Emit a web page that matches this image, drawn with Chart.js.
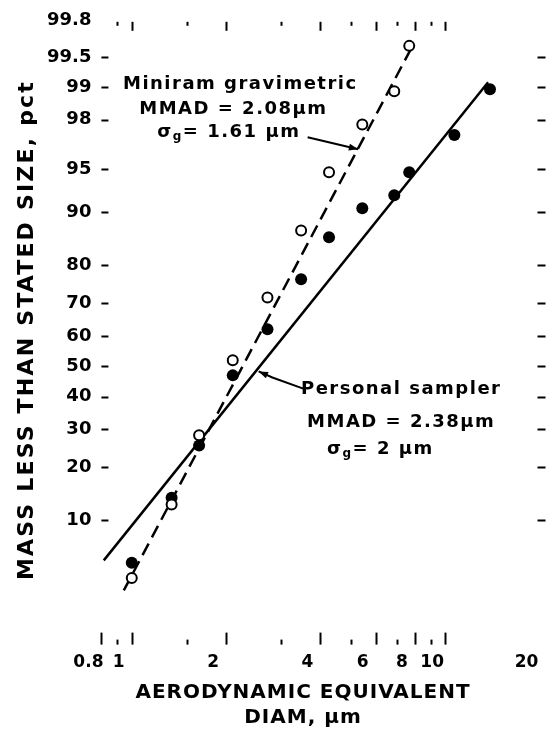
<!DOCTYPE html>
<html>
<head>
<meta charset="utf-8">
<script src="https://cdn.jsdelivr.net/npm/chart.js@4"></script>
<style>
html, body { margin: 0; padding: 0; background: #fff; }
</style>
</head>
<body>
<canvas id="sizeChart" width="560" height="739"></canvas>
<script>
// impactor stage diameters, um
const stageDiam = [1.00, 1.34, 1.64, 2.10, 2.71, 3.47, 4.26, 5.44, 6.88, 7.68, 10.7, 13.9];
// cumulative mass less than stated size, pct
const miniramPct = [3.9, 12.5, 28.3, 52.0, 71.7, 87.1, 94.7, 97.8, 98.9, 99.62];
const samplerPct = [5.1, 13.7, 25.5, 47.0, 62.1, 76.6, 85.9, 90.6, 92.3, 94.7, 97.3, 98.95];
// fitted lines, end points
const miniramFitDiam = [0.943, 7.97];
const miniramFitPct = [3.1, 99.65];
const samplerFitDiam = [0.814, 13.71];
const samplerFitPct = [5.3, 99.1];

const yTickPct = [10, 20, 30, 40, 50, 60, 70, 80, 90, 95, 98, 99, 99.5, 99.8];
const xTickDiam = [0.8, 0.9, 1, 1.5, 2, 3, 4, 5, 6, 7, 8, 9, 10, 20];
const xTickLabels = ['0.8', '', '1', '', '2', '', '4', '', '6', '', '8', '', '10', '20'];

// inverse normal cdf (Acklam), pct -> z, for the probability axis
function probit(pct) {
    const p = pct / 100;
    const a = [-39.69683028665376, 220.9460984245205, -275.9285104469687, 138.3577518672690, -30.66479806614716, 2.506628277459239];
    const b = [-54.47609879822406, 161.5858368580409, -155.6989798598866, 66.80131188771972, -13.28068155288572];
    const c = [-0.007784894002430293, -0.3223964580411365, -2.400758277161838, -2.549732539343734, 4.374664141464968, 2.938163982698783];
    const d = [0.007784695709041462, 0.3224671290700398, 2.445134137142996, 3.754408661907416];
    let q, r;
    if (p < 0.02425) {
        q = Math.sqrt(-2 * Math.log(p));
        return (((((c[0]*q+c[1])*q+c[2])*q+c[3])*q+c[4])*q+c[5]) / ((((d[0]*q+d[1])*q+d[2])*q+d[3])*q+1);
    }
    if (p <= 1 - 0.02425) {
        q = p - 0.5; r = q * q;
        return (((((a[0]*r+a[1])*r+a[2])*r+a[3])*r+a[4])*r+a[5])*q / (((((b[0]*r+b[1])*r+b[2])*r+b[3])*r+b[4])*r+1);
    }
    q = Math.sqrt(-2 * Math.log(1 - p));
    return -(((((c[0]*q+c[1])*q+c[2])*q+c[3])*q+c[4])*q+c[5]) / ((((d[0]*q+d[1])*q+d[2])*q+d[3])*q+1);
}

function toPoints(xs, pcts) {
    return pcts.map((p, i) => ({ x: xs[i], y: probit(p) }));
}

const FONT = '"DejaVu Sans", sans-serif';

// labels and leader lines, placed in data units (diam, pct)
const notes = [
    { text: [['Miniram gravimetric'], ['MMAD = 2.08µm'], ['σ', 'g', '= 1.61 µm']], at: [[2.22, 99.06], [2.11, 98.39], [2.04, 97.44]] },
    { text: [['Personal sampler'], ['MMAD = 2.38µm'], ['σ', 'g', '= 2 µm']], at: [[7.24, 42.4], [7.24, 32.0], [6.21, 24.5]] }
];
const leaders = [
    { pts: [[3.64, 97.18], [5.28, 96.47]] },
    { pts: [[3.58, 42.4], [2.81, 46.3], [2.54, 48.3]] }
];

function spacing(ctx, px) {
    if ('letterSpacing' in ctx) ctx.letterSpacing = px + 'px';
}

const figureMarks = {
    id: 'figureMarks',
    afterDraw(chart) {
        const ctx = chart.ctx;
        const xs = chart.scales.x, ys = chart.scales.y;
        const area = chart.chartArea;
        ctx.save();
        ctx.strokeStyle = '#000';
        ctx.fillStyle = '#000';
        ctx.lineWidth = 2;
        ctx.lineCap = 'butt';

        // x tick marks, bottom and top
        xTickDiam.forEach((v, i) => {
            if (v === 20) return;
            const px = Math.round(xs.getPixelForValue(v)) + 0.5;
            const major = xTickLabels[i] !== '';
            const base = area.bottom + 11;
            ctx.beginPath();
            ctx.moveTo(px, base);
            ctx.lineTo(px, base - (major ? 12 : 5));
            ctx.stroke();
            if (v !== 0.8) {
                ctx.beginPath();
                ctx.moveTo(px, area.top + 1);
                ctx.lineTo(px, area.top + 1 + (major ? 9 : 4));
                ctx.stroke();
            }
        });

        // y tick dashes, left and right
        yTickPct.forEach(p => {
            if (p === 99.8) return;
            const py = Math.round(ys.getPixelForValue(probit(p))) + 0.5;
            ctx.beginPath();
            ctx.moveTo(area.left, py);
            ctx.lineTo(area.left + 7, py);
            ctx.moveTo(area.right - 2, py);
            ctx.lineTo(area.right + 6, py);
            ctx.stroke();
        });

        // leader lines, arrow at the fitted line
        leaders.forEach(l => {
            const pts = l.pts.map(pt => [xs.getPixelForValue(pt[0]), ys.getPixelForValue(probit(pt[1]))]);
            ctx.lineWidth = 2;
            ctx.beginPath();
            ctx.moveTo(pts[0][0], pts[0][1]);
            for (let i = 1; i < pts.length; i++) ctx.lineTo(pts[i][0], pts[i][1]);
            ctx.stroke();
            const e = pts[pts.length - 1], s = pts[pts.length - 2];
            const ang = Math.atan2(e[1] - s[1], e[0] - s[0]);
            ctx.beginPath();
            ctx.moveTo(e[0], e[1]);
            ctx.lineTo(e[0] - 10 * Math.cos(ang - 0.35), e[1] - 10 * Math.sin(ang - 0.35));
            ctx.lineTo(e[0] - 10 * Math.cos(ang + 0.35), e[1] - 10 * Math.sin(ang + 0.35));
            ctx.closePath();
            ctx.fill();
        });

        // annotation text
        ctx.textBaseline = 'middle';
        ctx.textAlign = 'left';
        spacing(ctx, 1.5);
        notes.forEach(n => {
            n.text.forEach((parts, i) => {
                const cx = xs.getPixelForValue(n.at[i][0]);
                const cy = ys.getPixelForValue(probit(n.at[i][1]));
                const main = 'bold 18px ' + FONT, sub = 'bold 12px ' + FONT;
                let w = 0;
                parts.forEach((t, k) => {
                    ctx.font = (parts.length > 1 && k === 1) ? sub : main;
                    w += ctx.measureText(t).width;
                });
                let x = cx - w / 2;
                parts.forEach((t, k) => {
                    const isSub = parts.length > 1 && k === 1;
                    ctx.font = isSub ? sub : main;
                    ctx.fillText(t, x, cy + (isSub ? 5 : 0));
                    x += ctx.measureText(t).width;
                });
            });
        });

        // axis titles
        ctx.textAlign = 'center';
        ctx.font = 'bold 20px ' + FONT;
        spacing(ctx, 1);
        ctx.fillText('AERODYNAMIC EQUIVALENT', 303, 693);
        ctx.fillText('DIAM, µm', 303, 718);
        ctx.translate(27, 330);
        ctx.rotate(-Math.PI / 2);
        ctx.font = 'bold 22px ' + FONT;
        spacing(ctx, 2.2);
        ctx.fillText('MASS LESS THAN STATED SIZE, pct', 0, 0);
        ctx.restore();
    }
};

const chart = new Chart(document.getElementById('sizeChart').getContext('2d'), {
    type: 'scatter',
    data: {
        datasets: [{
            label: 'Miniram gravimetric',
            data: toPoints(stageDiam, miniramPct),
            pointRadius: 5,
            pointBorderWidth: 2,
            borderColor: '#000',
            backgroundColor: '#fff',
            order: 1
        }, {
            label: 'Personal sampler',
            data: toPoints(stageDiam, samplerPct),
            pointRadius: 6,
            pointBorderWidth: 0,
            borderColor: '#000',
            backgroundColor: '#000',
            order: 2
        }, {
            label: 'Miniram fit',
            data: toPoints(miniramFitDiam, miniramFitPct),
            showLine: true,
            pointRadius: 0,
            borderColor: '#000',
            borderWidth: 2.5,
            borderDash: [13, 7],
            order: 3
        }, {
            label: 'Personal sampler fit',
            data: toPoints(samplerFitDiam, samplerFitPct),
            showLine: true,
            pointRadius: 0,
            borderColor: '#000',
            borderWidth: 2.5,
            order: 4
        }]
    },
    options: {
        responsive: false,
        animation: false,
        layout: { padding: { top: 19, right: 20.5, bottom: 47, left: 37 } },
        plugins: {
            legend: { display: false },
            tooltip: { enabled: false }
        },
        scales: {
            x: {
                type: 'logarithmic',
                min: 0.8,
                max: 20,
                grid: { display: false, drawTicks: false },
                border: { display: false },
                afterBuildTicks: s => { s.ticks = xTickDiam.map(v => ({ value: v })); },
                afterFit: s => { s.paddingLeft = 0; s.paddingRight = 0; },
                ticks: {
                    autoSkip: false,
                    maxRotation: 0,
                    padding: 19,
                    labelOffset: -13,
                    color: '#000',
                    font: { family: FONT, size: 17, weight: 'bold' },
                    callback: (v, i) => xTickLabels[i]
                }
            },
            y: {
                type: 'linear',
                min: probit(1.3),
                max: probit(99.8),
                grid: { display: false, drawTicks: false },
                border: { display: false },
                afterBuildTicks: s => { s.ticks = yTickPct.map(p => ({ value: probit(p) })); },
                ticks: {
                    autoSkip: false,
                    padding: 10,
                    color: '#000',
                    font: { family: FONT, size: 18, weight: 'bold' },
                    callback: (v, i) => String(yTickPct[i])
                }
            }
        }
    },
    plugins: [figureMarks]
});
</script>
</body>
</html>
